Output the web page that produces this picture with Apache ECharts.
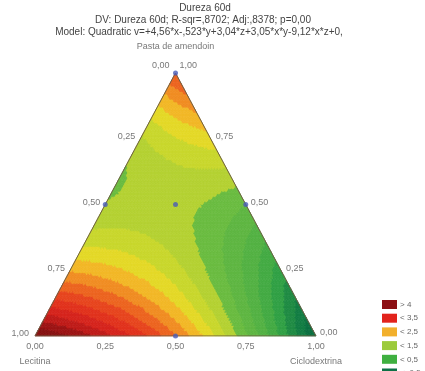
<!DOCTYPE html>
<html>
<head>
<meta charset="utf-8">
<script src="https://cdn.jsdelivr.net/npm/echarts@6/dist/echarts.min.js"></script>
<style>
  html, body { margin: 0; padding: 0; background: #fff; }
  #chart { width: 425px; height: 371px; }
</style>
</head>
<body>
<div id="chart"></div>
<script>
// Quadratic mixture model: x = Lecitina, y = Ciclodextrina, z = Pasta de amendoin
const modelTerms = ['x', 'y', 'z', 'x*y', 'x*z', 'y*z'];
const modelCoef = [4.56, -0.523, 3.04, 3.05, -9.12, 0.0];

const axisNames = ['Lecitina', 'Ciclodextrina', 'Pasta de amendoin'];
const tickValues = [0, 0.25, 0.5, 0.75, 1];
const tickLabels = ['0,00', '0,25', '0,50', '0,75', '1,00'];

// experimental runs as [Lecitina, Ciclodextrina, Pasta]
const designPoints = [
  [0, 0, 1], [0.5, 0, 0.5], [0, 0.5, 0.5], [0.25, 0.25, 0.5], [0.5, 0.5, 0]
];

// contour bands (lower edges) and their fills
const bandEdges = [-0.25, 0, 0.25, 0.5, 0.75, 1, 1.25, 1.5, 1.75, 2, 2.25, 2.5, 2.75, 3, 3.25, 3.5, 3.75, 4, 4.25];
const bandColors = ['#137d43', '#1f8b44', '#30a045', '#44ab44', '#53b143', '#5eb642', '#6abc40',
  '#b4d132', '#c8d72c', '#e4d927', '#f2b726', '#f08d23', '#ec6420', '#e7451e', '#e1321d',
  '#d5241c', '#bf1b19', '#9c1414', '#861111'];
const belowColor = '#0c7041';

// legend entries
const legendLabels = ['> 4', '< 3,5', '< 2,5', '< 1,5', '< 0,5', '< -0,5'];
const legendColors = ['#8c1014', '#e2231c', '#f2b02c', '#9ccb3c', '#3fb040', '#0d7146'];
const legendLower = [4, 2.5, 1.5, 0.5, -0.5, -Infinity];
const legendUpper = [Infinity, 3.5, 2.5, 1.5, 0.5, -0.5];

// ternary -> cartesian (Lecitina at left, Ciclodextrina at right, Pasta at top)
function toXY(L, C, P) { return [C + P / 2, P]; }
function model(L, C, P) {
  const t = [L, C, P, L * C, L * P, C * P];
  let s = 0;
  for (let i = 0; i < t.length; i++) s += modelCoef[i] * t[i];
  return s;
}

// triangular mesh over the simplex
const N = 100;
const cells = [];
function pushCell(p1, p2, p3) {
  const pts = [p1, p2, p3].map(p => [1 - p[0] / N - p[1] / N, p[0] / N, p[1] / N]);
  const cL = (pts[0][0] + pts[1][0] + pts[2][0]) / 3;
  const cC = (pts[0][1] + pts[1][1] + pts[2][1]) / 3;
  const cP = (pts[0][2] + pts[1][2] + pts[2][2]) / 3;
  const xy = pts.map(p => toXY(p[0], p[1], p[2]));
  cells.push([xy[0][0], xy[0][1], xy[1][0], xy[1][1], xy[2][0], xy[2][1], model(cL, cC, cP)]);
}
for (let a = 0; a < N; a++) {
  for (let b = 0; a + b < N; b++) {
    pushCell([a, b], [a + 1, b], [a, b + 1]);
    if (a + b + 2 <= N) pushCell([a + 1, b], [a + 1, b + 1], [a, b + 1]);
  }
}

const bandPieces = [{ lt: bandEdges[0], color: belowColor }];
bandEdges.forEach((e, i) => {
  const p = { gte: e, color: bandColors[i] };
  if (i + 1 < bandEdges.length) p.lt = bandEdges[i + 1];
  bandPieces.push(p);
});

const legendPieces = legendLabels.map((lab, i) => {
  const p = { label: lab, color: legendColors[i] };
  if (legendLower[i] !== -Infinity) p.gte = legendLower[i];
  if (legendUpper[i] !== Infinity) p.lt = legendUpper[i];
  return p;
});

const labelFont = { fontFamily: 'Liberation Sans, Arial, sans-serif', fontSize: 9, color: '#555' };

function tickPoint(xy, text, position, offset) {
  return {
    value: xy,
    label: Object.assign({ show: true, formatter: text, position: position, distance: 4, offset: offset || [0, 0] }, labelFont)
  };
}

const tickData = [];
// left side: Lecitina (0 at apex, 1 at bottom-left)
tickValues.forEach((v, i) => {
  const P = 1 - v;
  const xy = toXY(v, 0, P);
  if (v === 0) tickData.push(tickPoint(xy, tickLabels[i], 'left', [-2, -7]));
  else if (v === 1) tickData.push(tickPoint(xy, tickLabels[i], 'left', [-2, -2]));
  else tickData.push(tickPoint(xy, tickLabels[i], 'left', [-1, -2]));
});
// right side: Pasta de amendoin (1 at apex, 0 at bottom-right)
tickValues.forEach((v, i) => {
  const xy = toXY(0, 1 - v, v);
  if (v === 1) tickData.push(tickPoint(xy, tickLabels[i], 'right', [0, -7]));
  else if (v === 0) tickData.push(tickPoint(xy, tickLabels[i], 'right', [0, -3]));
  else tickData.push(tickPoint(xy, tickLabels[i], 'right', [1, -2]));
});
// bottom: Ciclodextrina (0 at left, 1 at right)
tickValues.forEach((v, i) => {
  tickData.push(tickPoint(toXY(1 - v, v, 0), tickLabels[i], 'bottom', [0, 2]));
});
// component names
tickData.push(tickPoint(toXY(1, 0, 0), axisNames[0], 'bottom', [0, 17]));
tickData.push(tickPoint(toXY(0, 1, 0), axisNames[1], 'bottom', [0, 17]));
tickData.push(tickPoint(toXY(0, 0, 1), axisNames[2], 'top', [0, -18]));

const chart = echarts.init(document.getElementById('chart'), null, { renderer: 'canvas' });

const titleFont = { fontFamily: 'Liberation Sans, Arial, sans-serif', fontSize: 10, fontWeight: 'normal', color: '#444' };

chart.setOption({
  animation: false,
  backgroundColor: '#fff',
  title: [
    { text: 'Dureza 60d', left: 205, textAlign: 'center', top: 3, padding: 0, textStyle: titleFont },
    { text: 'DV: Dureza 60d; R-sqr=,8702; Adj:,8378; p=0,00', left: 203, textAlign: 'center', top: 15, padding: 0, textStyle: titleFont },
    { text: 'Model: Quadratic v=+4,56*x-,523*y+3,04*z+3,05*x*y-9,12*x*z+0,', left: 199, textAlign: 'center', top: 27, padding: 0, textStyle: titleFont }
  ],
  grid: { left: 35, right: 109, top: 73, bottom: 35 },
  xAxis: { type: 'value', min: 0, max: 1, show: false },
  yAxis: { type: 'value', min: 0, max: 1, show: false },
  visualMap: [
    {
      type: 'piecewise', show: false, seriesIndex: 0, dimension: 6,
      pieces: bandPieces
    },
    {
      type: 'piecewise', show: true, seriesIndex: 4,
      left: 382, top: 300, padding: 0, orient: 'vertical', inverse: false, align: 'left',
      itemWidth: 15, itemHeight: 9, itemGap: 4.7, itemSymbol: 'rect', textGap: 3,
      textStyle: { fontFamily: 'Liberation Sans, Arial, sans-serif', fontSize: 8, color: '#666' },
      pieces: legendPieces
    }
  ],
  series: [
    {
      type: 'custom',
      data: cells,
      dimensions: ['x1', 'y1', 'x2', 'y2', 'x3', 'y3', 'v'],
      encode: { x: [0, 2, 4], y: [1, 3, 5] },
      silent: true,
      renderItem: function (params, api) {
        const pts = [0, 2, 4].map(k => api.coord([api.value(k), api.value(k + 1)]));
        const c = api.visual('color');
        return { type: 'polygon', shape: { points: pts }, style: { fill: c, stroke: c, lineWidth: 0.7 } };
      }
    },
    {
      type: 'line',
      data: [[0, 0], [1, 0], [0.5, 1], [0, 0]],
      symbol: 'none',
      lineStyle: { color: '#6e5f45', width: 1 },
      z: 5, silent: true
    },
    {
      type: 'scatter',
      data: designPoints.map(p => toXY(p[0], p[1], p[2])),
      symbolSize: 5,
      itemStyle: { color: '#4a5cb8' },
      z: 6, silent: true
    },
    {
      type: 'scatter',
      data: tickData,
      symbolSize: 0,
      z: 7, silent: true
    },
    {
      type: 'scatter',
      data: []
    }
  ]
});
</script>
</body>
</html>
